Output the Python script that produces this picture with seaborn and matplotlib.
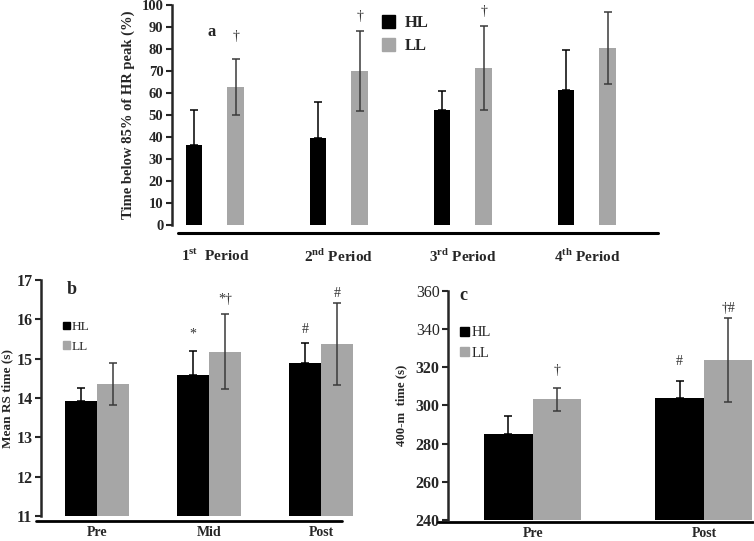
import numpy as np
import pandas as pd
import seaborn as sns
import matplotlib.pyplot as plt
from matplotlib.patches import Patch

# panel a: time below 85% of HR peak (%)
periods = ['1st', '2nd', '3rd', '4th']
period_labels = [r'1$^{\mathbf{st}}$  Period', r'2$^{\mathbf{nd}}$ Period',
                 r'3$^{\mathbf{rd}}$ Period', r'4$^{\mathbf{th}}$ Period']
hr_hl = [36.5, 39.5, 52.3, 61.2]
hr_hl_sd = [15.9, 16.4, 8.5, 18.5]
hr_ll = [62.8, 69.9, 71.4, 80.4]
hr_ll_sd = [12.7, 18.1, 19.0, 16.5]

# panel b: mean RS time (s)
sessions = ['Pre', 'Mid', 'Post']
rs_hl = [13.92, 14.58, 14.88]
rs_hl_sd = [0.33, 0.61, 0.51]
rs_ll = [14.36, 15.18, 15.37]
rs_ll_sd = [0.53, 0.96, 1.05]

# panel c: 400-m time (s)
tests = ['Pre', 'Post']
t400_hl = [284.8, 304.0]
t400_hl_sd = [9.8, 9.0]
t400_ll = [303.1, 323.7]
t400_ll_sd = [6.0, 21.8]

# significance marks: (group, category index, text, y)
marks_a = [('LL', 0, '†', 85.6), ('LL', 1, '†', 94.7), ('LL', 2, '†', 97.2)]
marks_b = [('HL', 1, '*', 15.62), ('LL', 1, '*†', 16.5),
           ('HL', 2, '#', 15.73), ('LL', 2, '#', 16.67)]
marks_c = [('LL', 0, '†', 318.5), ('HL', 1, '#', 322.8), ('LL', 1, '†#', 350.8)]

groups = ['HL', 'LL']
PALETTE = {'HL': '#000000', 'LL': '#a6a6a6'}
ERR_COL = {'HL': '#000000', 'LL': '#3a3a3a'}

sns.set_theme(style='ticks')
plt.rcParams['font.family'] = ['Liberation Serif', 'DejaVu Serif']
plt.rcParams['mathtext.fontset'] = 'custom'
plt.rcParams['mathtext.rm'] = 'Liberation Serif'
plt.rcParams['mathtext.bf'] = 'Liberation Serif:bold'


def draw_panel(ax, cats, hl, hl_sd, ll, ll_sd, width, gap, marks, tick_fs):
    df = pd.DataFrame({'cat': cats * 2,
                       'group': ['HL'] * len(cats) + ['LL'] * len(cats),
                       'value': hl + ll})
    sns.barplot(data=df, x='cat', y='value', hue='group', order=cats,
                hue_order=groups, palette=PALETTE, saturation=1,
                width=width, gap=gap, errorbar=None, legend=False,
                linewidth=0, ax=ax)
    centers = {}
    for g, bars, sd in zip(groups, ax.containers, [hl_sd, ll_sd]):
        xs = [b.get_x() + b.get_width() / 2 for b in bars]
        ys = [b.get_height() for b in bars]
        centers[g] = xs
        lower = np.zeros(len(sd)) if g == 'HL' else np.array(sd)
        ax.errorbar(xs, ys, yerr=[lower, np.array(sd)], fmt='none',
                    ecolor=ERR_COL[g], elinewidth=1.1, capsize=3,
                    capthick=1.1, zorder=3)
    for g, i, txt, y in marks:
        ax.text(centers[g][i], y, txt, ha='center', va='center',
                fontsize=10, color='#333333')

    sns.despine(ax=ax, bottom=True)
    ax.spines['left'].set_linewidth(1.8)
    ax.tick_params(axis='y', length=4, width=1.5, labelsize=tick_fs, pad=2)
    ax.tick_params(axis='x', length=0)
    for lab in ax.get_yticklabels():
        lab.set_fontweight('bold')
    ax.set_xlabel('')


fig = plt.figure(figsize=(7.54, 5.41), dpi=100)

# ---- panel a
ax_a = fig.add_axes([0.2277, 0.5841, 0.6476, 0.4067])
draw_panel(ax_a, periods, hr_hl, hr_hl_sd, hr_ll, hr_ll_sd, 0.672, 0.6,
           marks_a, 10.5)
ax_a.set_ylim(0, 100)
ax_a.set_yticks(np.arange(0, 101, 10))
ax_a.set_xlim(-0.349, 3.589)
ax_a.set_xticks(range(len(periods)))
ax_a.set_xticklabels(period_labels, fontsize=11, fontweight='bold')
ax_a.tick_params(axis='x', pad=16)
ax_a.set_ylabel('Time below 85% of HR peak (%)', fontsize=10.5,
                fontweight='bold', labelpad=5)
ax_a.plot([0.013, 0.996], [-0.036, -0.036], transform=ax_a.transAxes,
          color='black', lw=2.2, clip_on=False)
ax_a.text(-0.03, 87.6, 'a', ha='center', va='center', fontsize=12,
          fontweight='bold')
ax_a.legend(handles=[Patch(color=PALETTE[g], label=g) for g in groups],
            loc='upper left', bbox_to_anchor=(0.43, 0.955), frameon=False,
            borderpad=0, borderaxespad=0, handlelength=0.8,
            handleheight=0.85, handletextpad=0.6, labelspacing=0.4,
            prop={'weight': 'bold', 'size': 12})

# ---- panel b
ax_b = fig.add_axes([0.054, 0.0462, 0.4182, 0.4362])
draw_panel(ax_b, sessions, rs_hl, rs_hl_sd, rs_ll, rs_ll_sd, 0.571, 0,
           marks_b, 11.5)
ax_b.set_ylim(11, 17)
ax_b.set_yticks(np.arange(11, 18, 1))
ax_b.set_xlim(-0.503, 2.313)
ax_b.set_xticks(range(len(sessions)))
ax_b.set_xticklabels(sessions, fontsize=10, fontweight='bold')
ax_b.tick_params(axis='x', pad=7)
ax_b.set_ylabel('Mean RS time (s)', fontsize=9.5, fontweight='bold',
                labelpad=2)
ax_b.plot([-0.015, 0.956], [-0.02, -0.02], transform=ax_b.transAxes,
          color='black', lw=2, clip_on=False)
ax_b.text(-0.226, 16.75, 'b', ha='center', va='center', fontsize=13,
          fontweight='bold')
ax_b.legend(handles=[Patch(color=PALETTE[g], label=g) for g in groups],
            loc='upper left', bbox_to_anchor=(0.072, 0.825), frameon=False,
            borderpad=0, borderaxespad=0, handlelength=0.5,
            handleheight=0.5, handletextpad=0.15, labelspacing=0.55,
            prop={'size': 9.5})

# ---- panel c
ax_c = fig.add_axes([0.5942, 0.0388, 0.4058, 0.4238])
draw_panel(ax_c, tests, t400_hl, t400_hl_sd, t400_ll, t400_ll_sd, 0.566, 0,
           marks_c, 11.5)
ax_c.set_ylim(240, 360)
ax_c.set_yticks(np.arange(240, 361, 20))
ax_c.set_xlim(-0.494, 1.292)
ax_c.set_xticks(range(len(tests)))
ax_c.set_xticklabels(tests, fontsize=10, fontweight='bold')
ax_c.tick_params(axis='x', pad=5)
ax_c.set_ylabel('400-m  time (s)', fontsize=9.2, fontweight='bold',
                labelpad=6)
ax_c.plot([-0.033, 0.997], [-0.008, -0.008], transform=ax_c.transAxes,
          color='black', lw=2, clip_on=False)
ax_c.text(-0.407, 357.7, 'c', ha='center', va='center', fontsize=13,
          fontweight='bold')
ax_c.legend(handles=[Patch(color=PALETTE[g], label=g) for g in groups],
            loc='upper left', bbox_to_anchor=(0.039, 0.845), frameon=False,
            borderpad=0, borderaxespad=0, handlelength=0.6,
            handleheight=0.6, handletextpad=0.2, labelspacing=0.5,
            prop={'size': 10.5})

fig.savefig('out.png', dpi=100)
